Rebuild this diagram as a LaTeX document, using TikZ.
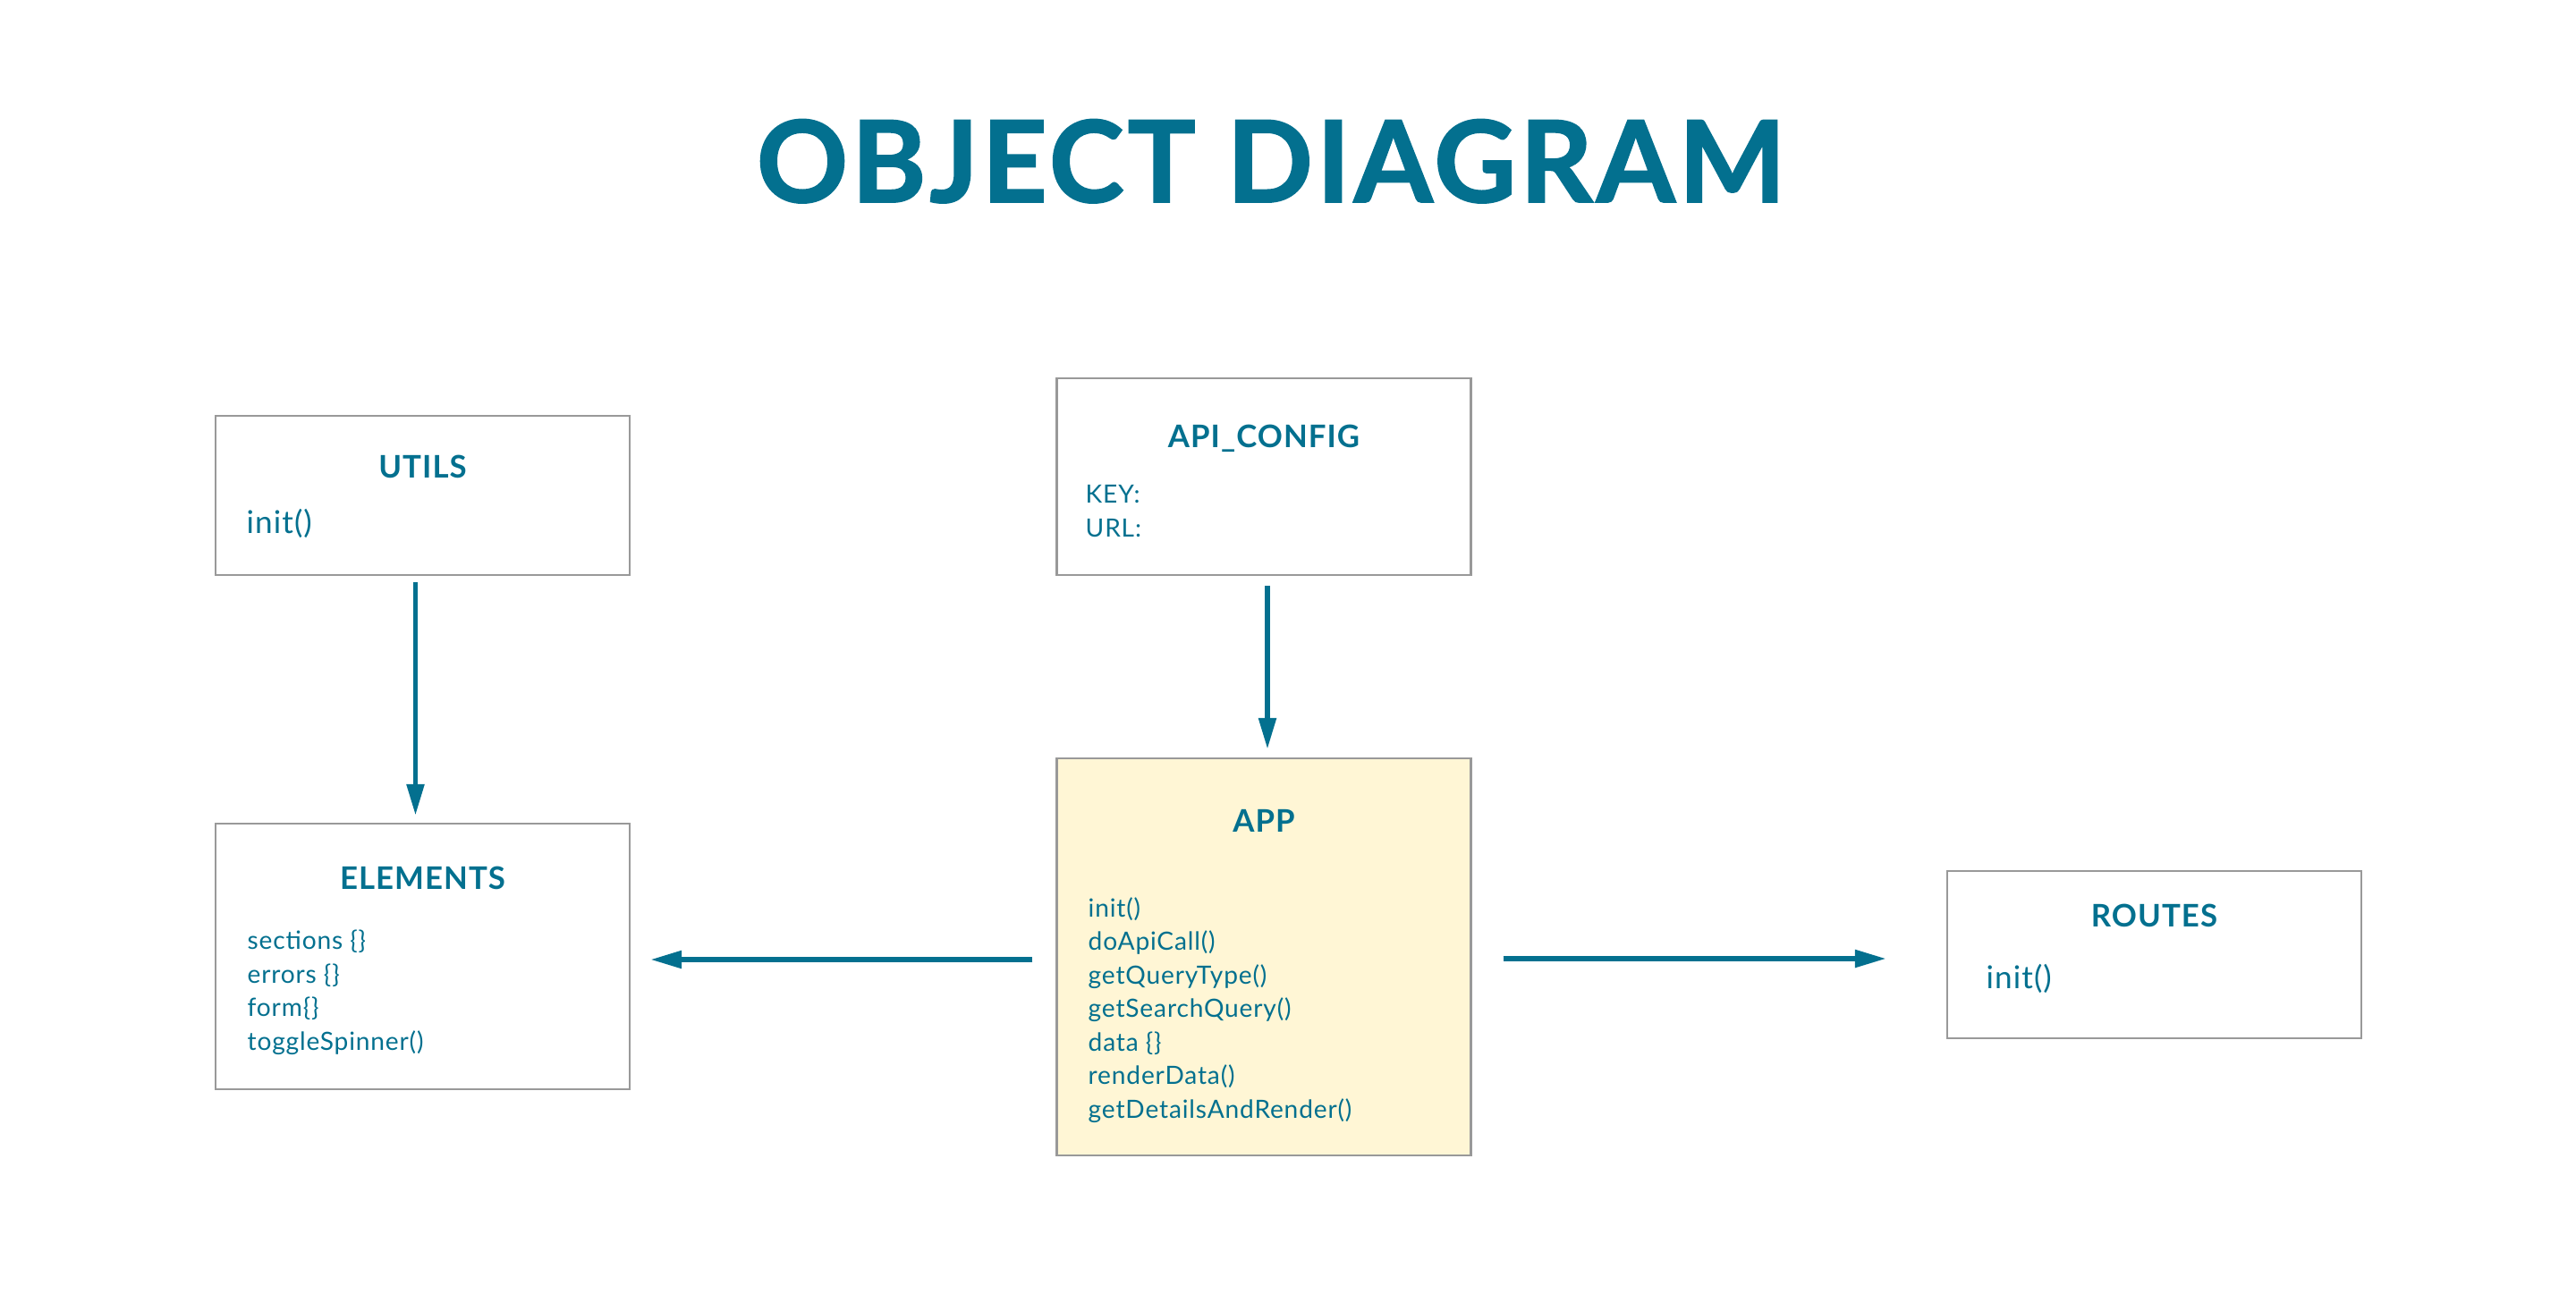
\documentclass[tikz,border=0pt]{standalone}
\usepackage{fontspec}
\setmainfont{Lato}[LetterSpace=3]
\newfontfamily\titlefont{Lato}[LetterSpace=3.3, BoldFeatures={FakeBold=1.5}]
\usepackage{tikz}
\usetikzlibrary{positioning, arrows.meta, calc}
\definecolor{objteal}{HTML}{03708F}
\definecolor{boxgray}{HTML}{999999}
\definecolor{appfill}{HTML}{FFF6D5}

\begin{document}
\begin{tikzpicture}[
    % GLOBAL CFG
    font=\fontsize{8}{10.66}\selectfont,
    text=objteal,
    >={Triangle[length=3.5mm, width=1.9mm]},
    % Styles
    object/.style={% For the object boxes
        rectangle,
        draw=boxgray,
        line width=0.7pt,
        minimum width=4.63cm,
        },
    heading/.style={% For the names of the objects
        font=\fontsize{9.9}{12}\selectfont\bfseries,
        anchor=base,
        },
    members/.style={% For the lists of members (anchored on the last line)
        align=left,
        anchor=base west,
        inner sep=0pt,
        },
    bigmember/.style={% Single members, a bit larger
        members,
        font=\fontsize{10}{12}\selectfont,
        },
    Link/.style={% Arrows between the objects
        ->,
        draw=objteal,
        line width=1.6pt,
        },
    ]

    \useasboundingbox (0,0) rectangle (28.8,-14.66);

    % Title
    \node[font=\titlefont\bfseries\fontsize{36}{40}\selectfont, anchor=base] (title) at (14.21,-2.26) {OBJECT DIAGRAM};

    % Draw the boxes
    \node[object, minimum height=1.78cm] (utils) at (4.725,-5.54) {};
    \node[object, minimum height=2.20cm] (apicfg) at (14.13,-5.33) {};
    \node[object, minimum height=2.97cm] (elements) at (4.725,-10.695) {};
    \node[object, minimum height=4.44cm, fill=appfill] (app) at (14.13,-10.70) {};
    \node[object, minimum height=1.87cm] (routes) at (24.085,-10.675) {};

    % Names of the objects
    \node[heading] (utilsname) at (4.725,-5.34) {UTILS};
    \node[heading] (apiname) at (14.13,-5.00) {API\_CONFIG};
    \node[heading] (elemname) at (4.725,-9.94) {ELEMENTS};
    \node[heading] (appname) at (14.13,-9.30) {APP};
    \node[heading] (routesname) at (24.085,-10.36) {ROUTES};

    % Members
    \node[bigmember] (utilsinit) at (2.75,-5.96) {init()};
    \node[members] (apikeys) at (12.13,-6.00) {KEY:\\URL:};
    \node[members] (elemlist) at (2.76,-11.74) {sections \{\}\\errors \{\}\\form\{\}\\toggleSpinner()};
    \node[members] (applist) at (12.16,-12.50) {init()\\doApiCall()\\getQueryType()\\getSearchQuery()\\data \{\}\\renderData()\\getDetailsAndRender()};
    \node[bigmember] (routesinit) at (22.20,-11.05) {init()};

    % Arrows
    \draw [Link, shorten <=0.07cm, shorten >=0.08cm] ([xshift=-0.08cm]utils.south) -- ([xshift=-0.08cm]elements.north);
    \draw [Link, shorten <=0.11cm, shorten >=0.09cm] ([xshift=0.04cm]apicfg.south) -- ([xshift=0.04cm]app.north);
    \draw [Link, shorten <=0.26cm, shorten >=0.22cm] ([yshift=-0.03cm]app.west) -- ([yshift=-0.03cm]app.west -| elements.east);
    \draw [Link, shorten <=0.35cm, shorten >=0.67cm] ([yshift=-0.02cm]app.east) -- ([yshift=-0.02cm]app.east -| routes.west);
\end{tikzpicture}
\end{document}
